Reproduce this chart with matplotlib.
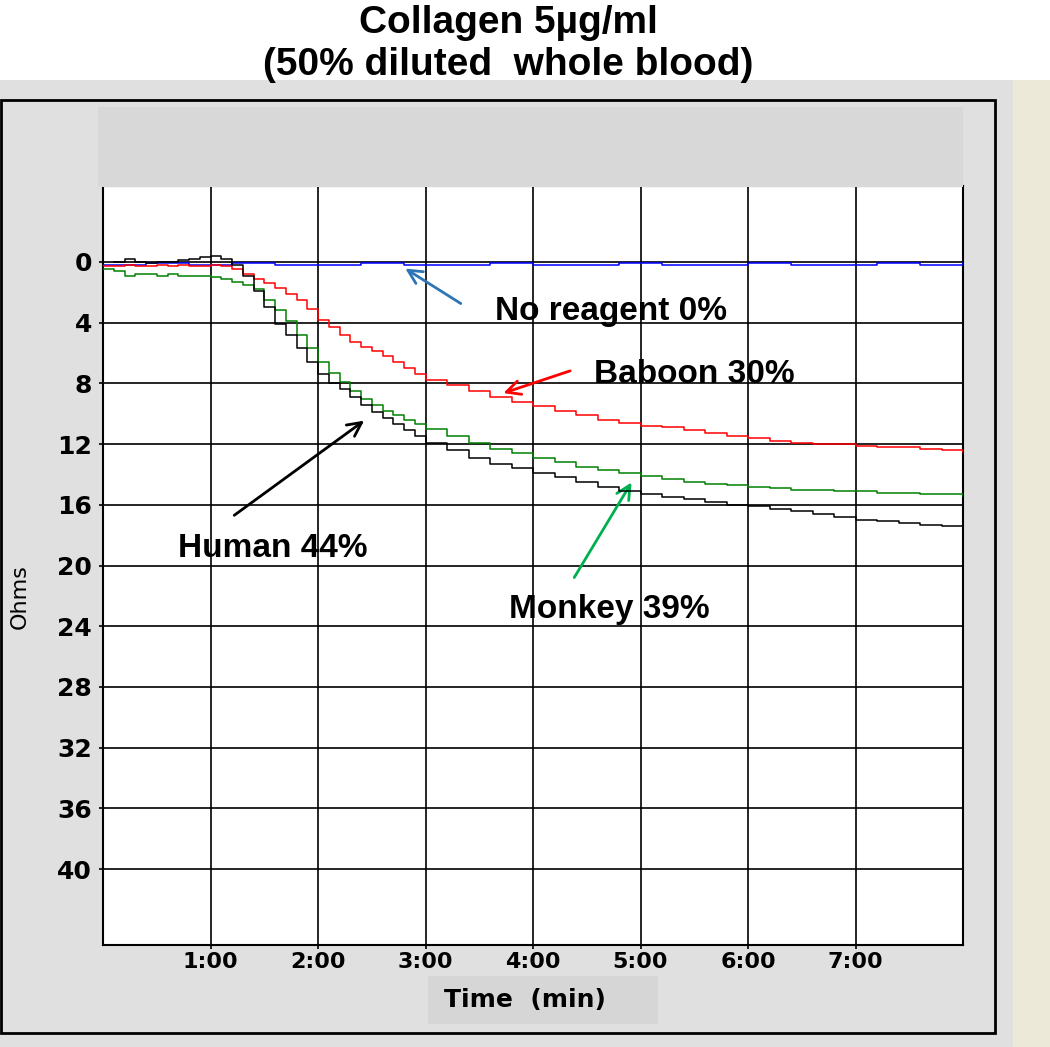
import matplotlib
matplotlib.use("Agg")
import matplotlib.pyplot as plt
from matplotlib.patches import Rectangle

# time (min) and aggregation (ohms)
t_base = [0.0, 0.1, 0.2, 0.3, 0.4, 0.5, 0.6, 0.7, 0.8, 0.9, 1.0, 1.1, 1.2, 1.3, 1.4,
          1.5, 1.6, 1.7, 1.8, 1.9, 2.0, 2.1, 2.2, 2.3, 2.4, 2.5, 2.6, 2.7, 2.8, 2.9,
          3.0, 3.2, 3.4, 3.6, 3.8, 4.0, 4.2, 4.4, 4.6, 4.8, 5.0, 5.2, 5.4, 5.6, 5.8,
          6.0, 6.2, 6.4, 6.6, 6.8, 7.0, 7.2, 7.4, 7.6, 7.8, 8.0]

baboon = [0.3, 0.3, 0.2, 0.3, 0.3, 0.2, 0.3, 0.2, 0.3, 0.3, 0.2, 0.3, 0.5, 0.8, 1.1,
          1.4, 1.7, 2.1, 2.5, 3.1, 3.8, 4.3, 4.8, 5.3, 5.6, 5.9, 6.2, 6.6, 7.0, 7.4,
          7.8, 8.1, 8.5, 8.9, 9.2, 9.5, 9.8, 10.1, 10.4, 10.6, 10.8, 10.9, 11.1, 11.3, 11.5,
          11.6, 11.8, 11.9, 12.0, 12.0, 12.1, 12.2, 12.2, 12.3, 12.4, 12.5]

monkey = [0.5, 0.6, 0.9, 0.8, 0.8, 0.9, 0.8, 0.9, 0.9, 0.9, 1.0, 1.1, 1.3, 1.5, 1.8,
          2.5, 3.2, 3.9, 4.8, 5.7, 6.6, 7.3, 7.9, 8.5, 9.0, 9.4, 9.8, 10.1, 10.4, 10.7,
          11.0, 11.5, 11.9, 12.3, 12.6, 12.9, 13.2, 13.5, 13.7, 13.9, 14.1, 14.3, 14.5, 14.6, 14.7,
          14.8, 14.9, 15.0, 15.0, 15.1, 15.1, 15.2, 15.2, 15.3, 15.3, 15.4]

# human trace starts a little later
human_t = t_base[1:]
human = [0.0, -0.2, 0.0, 0.1, 0.0, 0.0, -0.1, -0.2, -0.3, -0.4, -0.2, 0.2, 0.9, 1.9,
         3.0, 4.1, 4.8, 5.7, 6.6, 7.4, 8.0, 8.4, 8.9, 9.4, 9.9, 10.3, 10.7, 11.1, 11.5,
         11.9, 12.4, 12.9, 13.3, 13.6, 13.9, 14.2, 14.5, 14.8, 15.1, 15.3, 15.5, 15.6, 15.8, 16.0,
         16.1, 16.3, 16.4, 16.6, 16.8, 17.0, 17.1, 17.2, 17.3, 17.4, 17.5]

no_reagent_t = [0.0, 0.4, 0.8, 1.2, 1.6, 2.0, 2.4, 2.8, 3.2, 3.6, 4.0, 4.4, 4.8, 5.2,
                5.6, 6.0, 6.4, 6.8, 7.2, 7.6, 8.0]
no_reagent = [0.2, 0.1, 0.2, 0.1, 0.2, 0.2, 0.1, 0.2, 0.2, 0.1, 0.2, 0.2, 0.1, 0.2,
              0.2, 0.1, 0.2, 0.2, 0.1, 0.2, 0.1]

y_ticks = [0, 4, 8, 12, 16, 20, 24, 28, 32, 36, 40]
x_ticks = [1, 2, 3, 4, 5, 6, 7]
x_labels = ["1:00", "2:00", "3:00", "4:00", "5:00", "6:00", "7:00"]

W, H = 1050, 1047
fig = plt.figure(figsize=(W / 100, H / 100), dpi=100)
fig.patch.set_facecolor("white")


def px_rect(x0, y0, x1, y1, **kw):
    # rectangle given in pixel coords (origin top-left)
    r = Rectangle((x0 / W, 1 - y1 / H), (x1 - x0) / W, (y1 - y0) / H,
                  transform=fig.transFigure, **kw)
    fig.add_artist(r)


# background panels
px_rect(0, 80, 1013, 1047, facecolor="#e0e0e0", edgecolor="none", zorder=0)
px_rect(1013, 80, 1050, 1047, facecolor="#ece9d8", edgecolor="none", zorder=0)
px_rect(1, 100, 995, 1033, facecolor="none", edgecolor="black", linewidth=2, zorder=1)
px_rect(98, 107, 963, 187, facecolor="#d8d8d8", edgecolor="none", zorder=1)
px_rect(428, 976, 658, 1024, facecolor="#d6d6d6", edgecolor="none", zorder=1)

ax = fig.add_axes([103 / W, 1 - 945 / H, 860 / W, 759 / H])
ax.set_facecolor("white")
ax.set_xlim(0, 8)
ax.set_ylim(45, -5)

ax.plot(no_reagent_t, no_reagent, color="#0000ff", lw=1.1, drawstyle="steps-post", zorder=3)
ax.plot(t_base, baboon, color="#ff0000", lw=1.1, drawstyle="steps-post", zorder=4)
ax.plot(t_base, monkey, color="#008000", lw=1.1, drawstyle="steps-post", zorder=4)
ax.plot(human_t, human, color="black", lw=1.1, drawstyle="steps-post", zorder=4)

ax.set_xticks(x_ticks)
ax.set_xticklabels(x_labels)
ax.set_yticks(y_ticks)
ax.grid(True, color="black", linewidth=1.2)
ax.tick_params(length=3, width=1.2, color="black")
for lab in ax.get_xticklabels() + ax.get_yticklabels():
    lab.set_fontfamily("DejaVu Sans")
    lab.set_fontweight("bold")
ax.tick_params(axis="y", labelsize=18, pad=5)
ax.tick_params(axis="x", labelsize=16, pad=2)
for s in ax.spines.values():
    s.set_linewidth(1.5)

# annotations
ann_font = dict(family="Liberation Sans", fontsize=24, fontweight="bold",
                ha="center", va="center")
ax.annotate("", xy=(2.79, 0.34), xytext=(3.35, 2.84),
            arrowprops=dict(arrowstyle="->", color="#2e75b6", lw=2, mutation_scale=25))
ax.text(4.73, 3.3, "No reagent 0%", **ann_font)
ax.annotate("", xy=(3.70, 8.70), xytext=(4.37, 7.12),
            arrowprops=dict(arrowstyle="->", color="#ff0000", lw=2, mutation_scale=25))
ax.text(5.5, 7.45, "Baboon 30%", **ann_font)
ax.annotate("", xy=(2.45, 10.35), xytext=(1.2, 16.8),
            arrowprops=dict(arrowstyle="->", color="black", lw=2, mutation_scale=25))
ax.text(1.58, 18.9, "Human 44%", **ann_font)
ax.annotate("", xy=(4.93, 14.37), xytext=(4.37, 20.95),
            arrowprops=dict(arrowstyle="->", color="#00b050", lw=2, mutation_scale=25))
ax.text(4.71, 22.9, "Monkey 39%", **ann_font)

# titles and axis labels
fig.text(508 / W, 1 - 23 / H, "Collagen 5µg/ml", family="Liberation Sans",
         fontsize=28, fontweight="bold", ha="center", va="center")
fig.text(508 / W, 1 - 65 / H, "(50% diluted  whole blood)", family="Liberation Sans",
         fontsize=28, fontweight="bold", ha="center", va="center")
fig.text(20 / W, 1 - 597 / H, "Ohms", family="DejaVu Sans", fontsize=16,
         rotation=90, ha="center", va="center")
fig.text(525 / W, 1 - 1000 / H, "Time  (min)", family="DejaVu Sans", fontsize=18,
         fontweight="bold", ha="center", va="center")

fig.savefig("out.png", dpi=100)
